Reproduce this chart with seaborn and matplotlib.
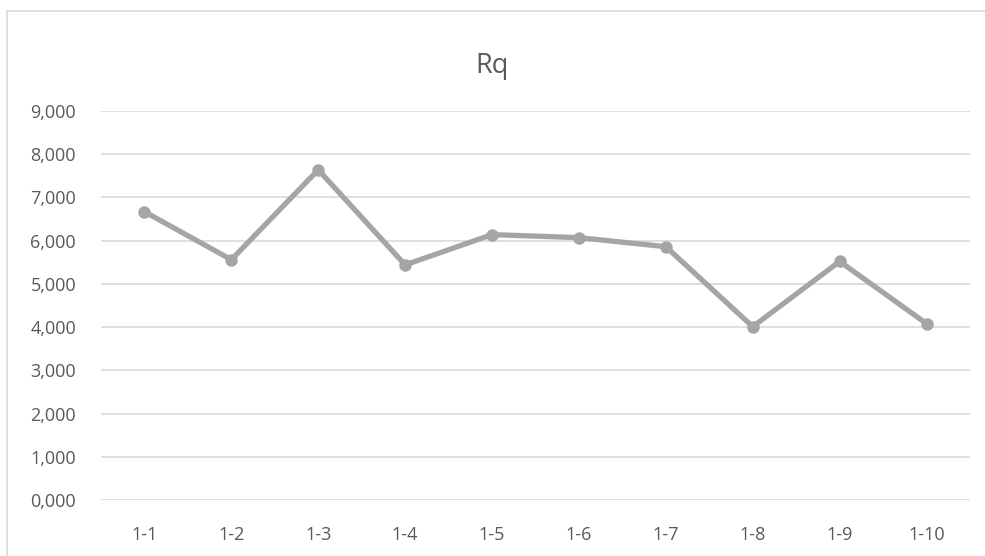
import matplotlib
matplotlib.use("Agg")
import matplotlib.pyplot as plt
from matplotlib.lines import Line2D
from matplotlib.ticker import FuncFormatter, MultipleLocator
import seaborn as sns
import pandas as pd

categories = ["1-1", "1-2", "1-3", "1-4", "1-5", "1-6", "1-7", "1-8", "1-9", "1-10"]
rq_values = [6.67, 5.56, 7.64, 5.44, 6.14, 6.07, 5.86, 4.01, 5.52, 4.08]
title_text = "Rq"

sns.set_theme(style="white")
plt.rcParams["font.family"] = ["Open Sans", "DejaVu Sans"]

df = pd.DataFrame({"cat": categories, "val": rq_values, "x": range(len(categories))})

fig = plt.figure(figsize=(9.85, 5.56), dpi=100)
ax = fig.add_axes([101 / 985, 1 - 500 / 556, (970 - 101) / 985, (500 - 111) / 556])

sns.lineplot(data=df, x="x", y="val", ax=ax, color="#A5A5A5", linewidth=3.8,
             marker="o", markersize=9, markeredgewidth=0, zorder=3)

ax.set_xlim(-0.5, len(categories) - 0.5)
ax.set_ylim(0, 9)
ax.yaxis.set_major_locator(MultipleLocator(1))
ax.yaxis.set_major_formatter(FuncFormatter(lambda v, p: f"{v:.3f}".replace(".", ",")))
ax.set_xticks(range(len(categories)))
ax.set_xticklabels(categories)
ax.grid(axis="y", color="#D9D9D9", linewidth=1.2, zorder=0)
ax.grid(axis="x", visible=False)
for s in ax.spines.values():
    s.set_visible(False)
ax.tick_params(axis="both", length=0, labelsize=13, labelcolor="#595959")
ax.tick_params(axis="y", pad=18)
ax.tick_params(axis="x", pad=19)
ax.set_xlabel("")
ax.set_ylabel("")

fig.text(0.5, 1 - 66 / 556, title_text, ha="center", va="center", fontsize=19.5, color="#595959")

fig.add_artist(Line2D([7 / 985, 7 / 985], [0, 1 - 11 / 556], transform=fig.transFigure, color="#D9D9D9", linewidth=1.2))
fig.add_artist(Line2D([7 / 985, 1], [1 - 11 / 556, 1 - 11 / 556], transform=fig.transFigure, color="#D9D9D9", linewidth=1.2))

fig.savefig("out.png", dpi=100, facecolor="white")
